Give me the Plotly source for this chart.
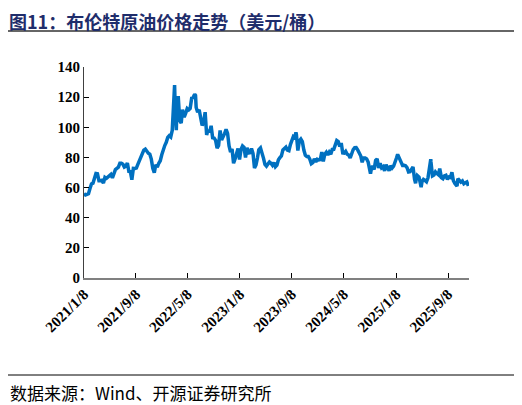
import pandas as pd
import plotly.graph_objs as go

# Brent weekly closes (USD/bbl)
dates_2021 = ["01-08", "01-15", "01-22", "01-29", "02-05", "02-12", "02-19", "02-26", "03-05", "03-12",
              "03-19", "03-26", "04-01", "04-09", "04-16", "04-23", "04-30", "05-07", "05-14", "05-21",
              "05-28", "06-04", "06-11", "06-18", "06-25", "07-02", "07-09", "07-16", "07-23", "07-30",
              "08-06", "08-13", "08-20", "08-27", "09-03", "09-10", "09-17", "09-24", "10-01", "10-08",
              "10-15", "10-22", "10-29", "11-05", "11-12", "11-19", "11-26", "12-03", "12-10", "12-17",
              "12-24", "12-31"]
brent_2021 = [55.99, 55.10, 55.41, 55.88, 59.34, 62.43, 62.91, 66.13, 69.36, 69.22,
              64.53, 64.57, 64.86, 62.95, 66.77, 66.11, 67.25, 68.28, 68.71, 66.44,
              69.63, 71.89, 72.69, 73.51, 76.18, 76.17, 75.55, 73.59, 74.10, 76.33,
              70.70, 70.59, 65.18, 72.70, 72.61, 72.92, 75.34, 78.09, 79.28, 82.39,
              84.86, 85.53, 83.72, 82.74, 82.17, 78.89, 72.72, 69.88, 75.15, 73.52,
              76.14, 77.78]

dates_2022 = ["01-07", "01-14", "01-21", "01-28", "02-04", "02-11", "02-18", "02-25", "03-04", "03-08",
              "03-11", "03-16", "03-18", "03-25", "04-01", "04-08", "04-14", "04-22", "04-29", "05-06",
              "05-13", "05-20", "05-27", "06-03", "06-10", "06-14", "06-17", "06-24", "07-01", "07-08",
              "07-15", "07-22", "07-29", "08-05", "08-12", "08-19", "08-26", "09-02", "09-09", "09-16",
              "09-23", "09-30", "10-07", "10-14", "10-21", "10-28", "11-04", "11-11", "11-18", "11-25",
              "12-02", "12-09", "12-16", "12-23", "12-30"]
brent_2022 = [81.75, 86.06, 87.89, 90.03, 93.27, 94.44, 93.54, 97.93, 118.11, 127.98,
              112.67, 98.02, 107.93, 120.65, 104.39, 102.78, 111.70, 106.65, 109.34, 112.39,
              111.55, 112.55, 119.43, 119.72, 122.01, 121.17, 113.12, 110.05, 111.63, 107.02,
              101.16, 103.20, 110.01, 94.92, 98.15, 96.72, 100.99, 93.02, 92.84, 91.35,
              86.15, 87.96, 97.92, 91.63, 93.50, 95.77, 98.57, 95.99, 87.62, 83.63,
              85.57, 76.10, 79.04, 83.92, 85.91]

dates_2023 = ["01-06", "01-13", "01-20", "01-27", "02-03", "02-10", "02-17", "02-24", "03-03", "03-10",
              "03-17", "03-24", "03-31", "04-06", "04-14", "04-21", "04-28", "05-05", "05-12", "05-19",
              "05-26", "06-02", "06-09", "06-16", "06-23", "06-30", "07-07", "07-14", "07-21", "07-28",
              "08-04", "08-11", "08-18", "08-25", "09-01", "09-08", "09-15", "09-22", "09-27", "09-29",
              "10-06", "10-13", "10-20", "10-27", "11-03", "11-10", "11-17", "11-24", "12-01", "12-08",
              "12-15", "12-22", "12-29"]
brent_2023 = [78.57, 85.28, 87.63, 86.66, 79.94, 86.39, 83.00, 83.16, 85.83, 82.78,
              72.97, 74.99, 79.77, 85.12, 86.31, 81.66, 79.54, 75.30, 74.17, 75.58,
              76.95, 76.13, 74.79, 76.61, 73.85, 74.90, 78.47, 79.87, 81.07, 84.99,
              86.24, 86.81, 84.80, 84.48, 88.55, 90.65, 93.93, 93.27, 96.55, 95.31,
              84.58, 90.89, 92.16, 90.48, 84.89, 81.43, 80.61, 80.58, 78.88, 75.84,
              76.55, 79.07, 77.04]

dates_2024 = ["01-05", "01-12", "01-19", "01-26", "02-02", "02-09", "02-16", "02-23", "03-01", "03-08",
              "03-15", "03-22", "03-28", "04-05", "04-12", "04-19", "04-26", "05-03", "05-10", "05-17",
              "05-24", "05-31", "06-07", "06-14", "06-21", "06-28", "07-05", "07-12", "07-19", "07-26",
              "08-02", "08-09", "08-16", "08-23", "08-30", "09-06", "09-10", "09-13", "09-20", "09-27",
              "10-04", "10-11", "10-18", "10-25", "11-01", "11-08", "11-15", "11-22", "11-29", "12-06",
              "12-13", "12-20", "12-27"]
brent_2024 = [78.76, 78.29, 78.56, 83.55, 77.33, 82.19, 83.47, 81.62, 83.55, 82.08,
              85.34, 85.43, 87.48, 91.17, 90.45, 87.29, 89.50, 82.96, 82.79, 83.98,
              82.12, 81.62, 79.62, 82.62, 85.24, 86.41, 86.54, 85.03, 82.63, 81.13,
              76.81, 79.66, 79.68, 79.02, 76.93, 71.06, 69.19, 71.61, 74.49, 71.98,
              78.05, 79.04, 73.06, 76.05, 73.10, 73.87, 71.04, 75.17, 72.94, 71.12,
              74.49, 72.94, 74.17]

dates_2025 = ["01-03", "01-10", "01-15", "01-17", "01-24", "01-31", "02-07", "02-14", "02-21", "02-28",
              "03-07", "03-14", "03-21", "03-28", "04-04", "04-09", "04-11", "04-17", "04-25", "05-02",
              "05-05", "05-09", "05-16", "05-23", "05-30", "06-06", "06-13", "06-19", "06-20", "06-23",
              "06-27", "07-04", "07-11", "07-18", "07-25", "07-31", "08-08", "08-15", "08-22", "08-29",
              "09-05", "09-12", "09-19", "09-26", "10-03", "10-10", "10-20", "10-24", "10-31", "11-07",
              "11-14", "11-21", "11-28", "12-05", "12-12"]
brent_2025 = [76.51, 79.76, 82.03, 81.29, 78.50, 76.76, 74.66, 74.74, 74.43, 73.18,
              70.36, 70.58, 72.16, 73.63, 65.58, 62.82, 64.76, 67.96, 66.87, 61.29,
              60.23, 63.91, 65.41, 64.78, 63.90, 66.47, 74.23, 78.85, 77.01, 71.48,
              67.77, 68.30, 70.36, 69.28, 68.44, 72.53, 66.59, 65.85, 67.73, 68.12,
              65.50, 66.99, 66.68, 70.13, 64.53, 62.73, 61.01, 65.94, 65.07, 63.63,
              64.39, 62.56, 63.20, 63.75, 61.12]

tick_dates = ["2021-01-08", "2021-09-08", "2022-05-08", "2023-01-08",
              "2023-09-08", "2024-05-08", "2025-01-08", "2025-09-08"]
tick_labels = ["2021/1/8", "2021/9/8", "2022/5/8", "2023/1/8",
               "2023/9/8", "2024/5/8", "2025/1/8", "2025/9/8"]

years = {2021: (dates_2021, brent_2021), 2022: (dates_2022, brent_2022),
         2023: (dates_2023, brent_2023), 2024: (dates_2024, brent_2024),
         2025: (dates_2025, brent_2025)}
rows = []
for yr, (ds, vs) in years.items():
    assert len(ds) == len(vs), yr
    rows += [(f"{yr}-{d}", v) for d, v in zip(ds, vs)]
df = pd.DataFrame(rows, columns=["date", "brent"])
df["date"] = pd.to_datetime(df["date"])

# page body has an 8px margin, so the figure is 8px smaller and shifted
W, H = 514, 397
L, R, T, B = 76, 53, 59, 127
pw, ph = W - L - R, H - T - B


def px_x(x):
    return (x - L) / pw


def px_y(y):
    return (H - B - y) / ph


fig = go.Figure()
fig.add_trace(
    go.Scatter(
        x=df["date"],
        y=df["brent"],
        mode="lines",
        line=dict(color="#0070C0", width=3.5),
        showlegend=False,
    )
)

axis_font = dict(family="Liberation Serif", size=15, color="#000000", weight="bold")
fig.update_xaxes(
    type="date",
    range=["2021-01-08", "2025-12-15"],
    tickvals=tick_dates,
    ticktext=tick_labels,
    tickangle=-45,
    ticks="inside",
    ticklen=5,
    tickcolor="#000000",
    showline=True,
    linecolor="#808080",
    linewidth=1.5,
    showgrid=False,
    zeroline=False,
    tickfont=axis_font,
)
fig.update_yaxes(
    range=[0, 140],
    tickvals=[0, 20, 40, 60, 80, 100, 120, 140],
    ticks="inside",
    ticklen=5,
    tickcolor="#000000",
    showline=True,
    linecolor="#404040",
    linewidth=1,
    showgrid=False,
    zeroline=False,
    tickfont=axis_font,
)

# title + rules above/below like the report template
fig.add_annotation(
    x=px_x(0), y=px_y(-1), xref="paper", yref="paper",
    text="图11：布伦特原油价格走势（美元/桶）",
    showarrow=False, xanchor="left", yanchor="top", borderpad=0,
    font=dict(family="Noto Sans CJK SC", size=18, color="#1F2D6B", weight="bold"),
)
fig.add_shape(
    type="line", xref="paper", yref="paper",
    x0=px_x(0), x1=px_x(508), y0=px_y(23), y1=px_y(23),
    line=dict(color="#333333", width=1.5),
)
fig.add_shape(
    type="line", xref="paper", yref="paper",
    x0=px_x(0), x1=px_x(508), y0=px_y(367), y1=px_y(367),
    line=dict(color="#000000", width=1),
)
fig.add_annotation(
    x=px_x(0), y=px_y(384), xref="paper", yref="paper",
    text="数据来源：Wind、开源证券研究所",
    showarrow=False, xanchor="left", yanchor="middle",
    font=dict(family="Noto Sans CJK SC", size=17, color="#000000"),
)

fig.update_layout(
    width=W,
    height=H,
    margin=dict(l=L, r=R, t=T, b=B),
    paper_bgcolor="#ffffff",
    plot_bgcolor="#ffffff",
)

fig.write_html("out.html")
